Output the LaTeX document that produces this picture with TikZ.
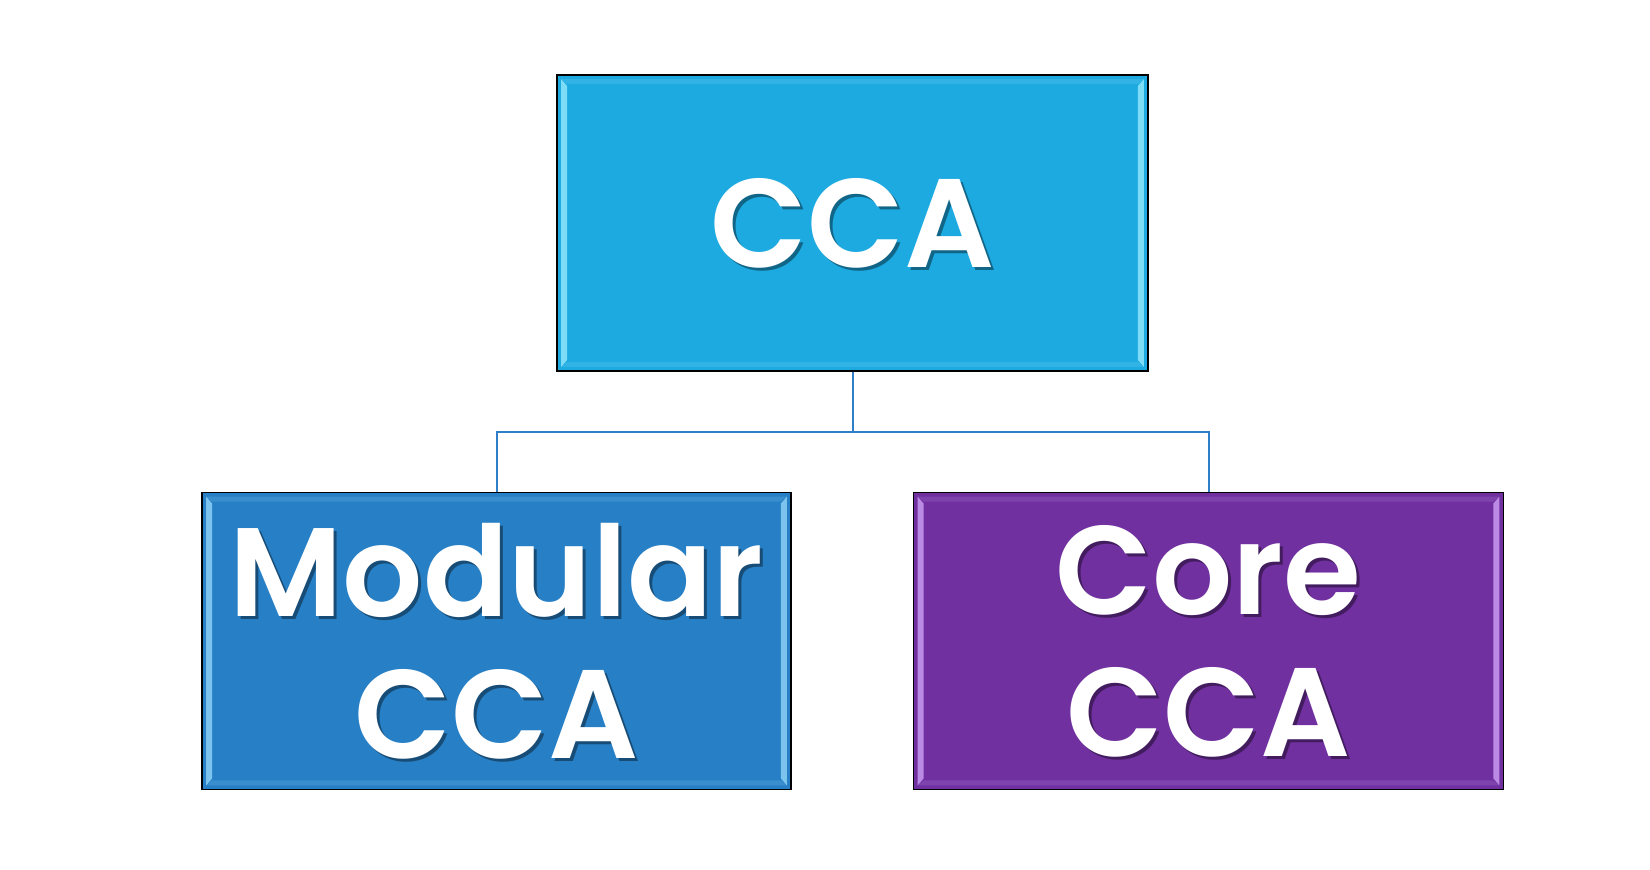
\documentclass[tikz,border=0pt]{standalone}
\usepackage{fontspec}
\setmainfont{Poppins}[BoldFont={* SemiBold}]
\definecolor{topc}{HTML}{1DAAE1}
\definecolor{leftc}{HTML}{2780C5}
\definecolor{rightc}{HTML}{7030A0}
\definecolor{conc}{HTML}{2F7FC8}
\definecolor{topL}{HTML}{8FE6FA}
\definecolor{leftL}{HTML}{8CD0F5}
\definecolor{rightL}{HTML}{C89AF0}
\newcommand\mybevel[2]{%
  \fill[#2,opacity=0.85] ([shift={(2.5pt,-2.5pt)}]#1.north west) -- ([shift={(5.5pt,-6pt)}]#1.north west) -- ([shift={(5.5pt,6pt)}]#1.south west) -- ([shift={(2.5pt,2.5pt)}]#1.south west) -- cycle;
  \fill[#2,opacity=0.85] ([shift={(-2.5pt,-2.5pt)}]#1.north east) -- ([shift={(-5.5pt,-6pt)}]#1.north east) -- ([shift={(-5.5pt,6pt)}]#1.south east) -- ([shift={(-2.5pt,2.5pt)}]#1.south east) -- cycle;
  \fill[#2,opacity=0.18] ([shift={(2.5pt,-2.5pt)}]#1.north west) -- ([shift={(-2.5pt,-2.5pt)}]#1.north east) -- ([shift={(-5.5pt,-5pt)}]#1.north east) -- ([shift={(5.5pt,-5pt)}]#1.north west) -- cycle;
  \fill[#2,opacity=0.18] ([shift={(2.5pt,2.5pt)}]#1.south west) -- ([shift={(-2.5pt,2.5pt)}]#1.south east) -- ([shift={(-5.5pt,5pt)}]#1.south east) -- ([shift={(5.5pt,5pt)}]#1.south west) -- cycle;
}
\begin{document}
\begin{tikzpicture}[x=0.5pt,y=-0.5pt,
  boxs/.style={draw=black,line width=0.8pt,inner sep=0pt},
  txt/.style={text=white,align=center,font=\fontsize{63}{71}\selectfont\bfseries,inner sep=0pt},
  shd/.style={text=black,text opacity=0.4,align=center,font=\fontsize{63}{71}\selectfont\bfseries,inner sep=0pt},
  conn/.style={draw=conc,line width=1pt}]
\useasboundingbox (0,0) rectangle (1650,869);
\node[boxs,fill=topc,minimum width=295.5pt,minimum height=148pt] (top) at (852.5,223) {};
\node[boxs,fill=leftc,minimum width=294.5pt,minimum height=148.5pt] (left) at (496.5,641) {};
\node[boxs,fill=rightc,minimum width=295pt,minimum height=148.5pt] (right) at (1208.5,641) {};
\mybevel{top}{topL}
\mybevel{left}{leftL}
\mybevel{right}{rightL}
\coordinate (jn) at (852.5,432);
\draw[conn] (top.south) -- (jn);
\draw[conn] (left.north) |- (jn) -| (right.north);
\node[shd] (topS) at ([shift={(1.5pt,-1.5pt)}]top.center) {CCA};
\node[txt] (topT) at (top.center) {CCA};
\node[shd] (leftS) at ([shift={(1.5pt,-1.5pt)}]left.center) {Modular\\CCA};
\node[txt] (leftT) at (left.center) {Modular\\CCA};
\node[shd] (rightS) at ([shift={(1.5pt,-1.5pt)}]right.center) {Core\\CCA};
\node[txt] (rightT) at (right.center) {Core\\CCA};
\end{tikzpicture}
\end{document}
